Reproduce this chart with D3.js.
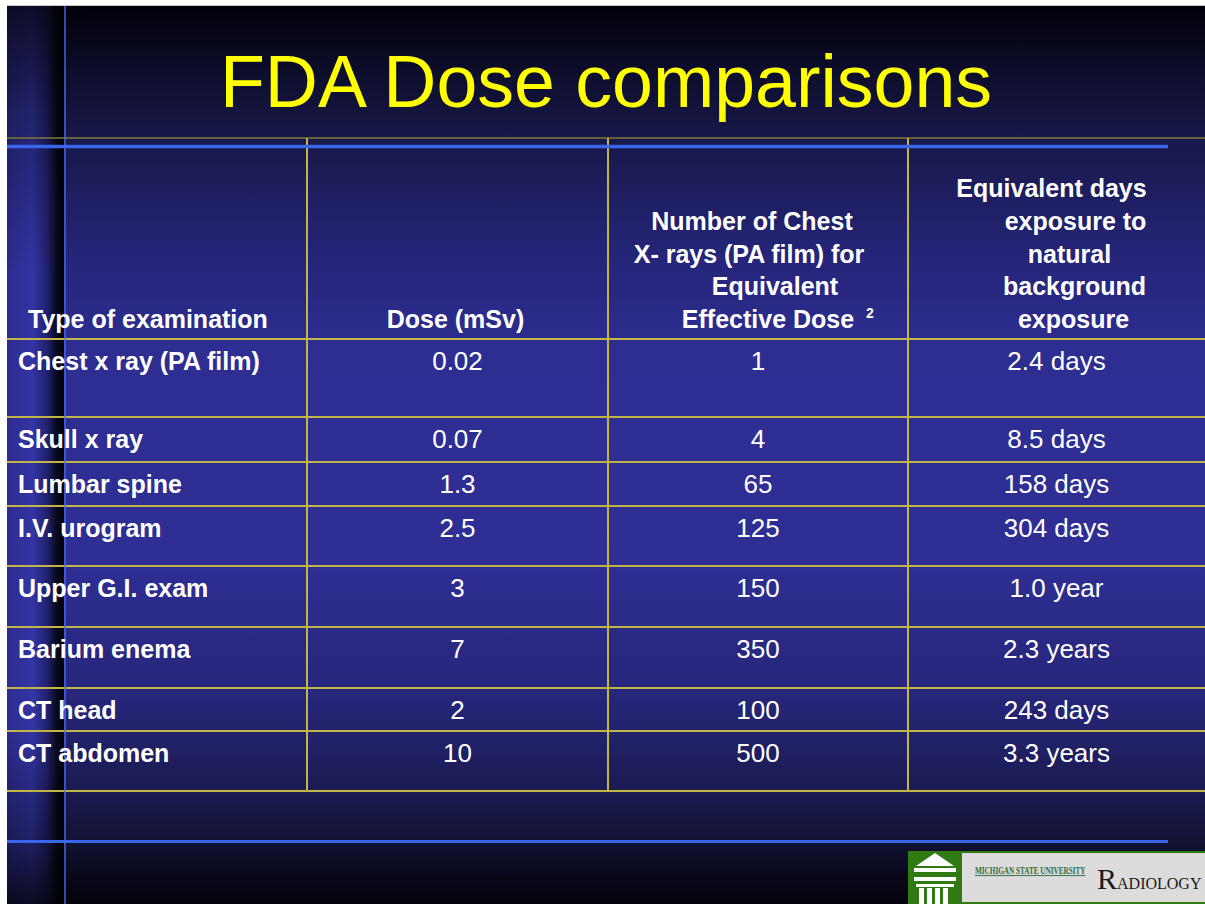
<!DOCTYPE html>
<html>
<head>
<meta charset="utf-8">
<script src="https://cdn.jsdelivr.net/npm/d3@7"></script>
<style>
  body { margin: 0; background: #fff; }
  svg { display: block; }
</style>
</head>
<body>
<svg id="chart" width="1205" height="904"></svg>
<script>
// table data
var title = "FDA Dose comparisons";
var headers = [
  ["Type of examination"],
  ["Dose (mSv)"],
  ["Number of Chest", "X- rays (PA film) for", "Equivalent", "Effective Dose"],
  ["Equivalent days", "exposure to", "natural", "background", "exposure"]
];
var footnote = "2";
var exams = ["Chest x ray (PA film)", "Skull x ray", "Lumbar spine", "I.V. urogram",
             "Upper G.I. exam", "Barium enema", "CT head", "CT abdomen"];
var doses = [0.02, 0.07, 1.3, 2.5, 3, 7, 2, 10];
var chestXrays = [1, 4, 65, 125, 150, 350, 100, 500];
var backgroundDays = ["2.4 days", "8.5 days", "158 days", "304 days",
                      "1.0 year", "2.3 years", "243 days", "3.3 years"];

// layout
var W = 1205, H = 904;
var left = 7, top0 = 5;
var colEdges = [7, 307, 608, 908, 1205];
var headTop = 138, headBottom = 339;
var rowHeights = [78, 45, 44, 60, 61, 61, 43, 60];
var headerDx = [[0], [-2], [-6, -9, 17, 10], [-5, 19, 13, 18, 17]];
var lineGap = 32.7;

var svg = d3.select("#chart");
var defs = svg.append("defs");

var bg = defs.append("linearGradient").attr("id", "bg")
    .attr("x1", 0).attr("y1", 0).attr("x2", 0).attr("y2", 1);
[[0, "#000008"], [0.06, "#0b0b26"], [0.14, "#171746"], [0.27, "#242476"],
 [0.38, "#2d2d92"], [0.62, "#2e2e94"], [0.77, "#26267a"], [0.87, "#1b1b54"],
 [0.93, "#121234"], [0.97, "#08081a"], [1, "#03030c"]].forEach(function(s) {
  bg.append("stop").attr("offset", s[0]).attr("stop-color", s[1]);
});

var bar = defs.append("linearGradient").attr("id", "bar")
    .attr("x1", 0).attr("y1", 0).attr("x2", 1).attr("y2", 0);
[[0, "#2c2c90"], [0.45, "#3434a4"], [0.7, "#222270"], [0.88, "#08081c"], [1, "#000008"]]
  .forEach(function(s) {
    bar.append("stop").attr("offset", s[0]).attr("stop-color", s[1]);
  });

var barShade = defs.append("linearGradient").attr("id", "barShade")
    .attr("x1", 0).attr("y1", 0).attr("x2", 0).attr("y2", 1);
[[0, 0.75], [0.12, 0.35], [0.3, 0], [0.8, 0], [0.93, 0.4], [1, 0.8]].forEach(function(s) {
  barShade.append("stop").attr("offset", s[0]).attr("stop-color", "#000")
    .attr("stop-opacity", s[1]);
});

// slide background
svg.append("rect").attr("x", left).attr("y", top0)
  .attr("width", W - left).attr("height", H - top0).attr("fill", "url(#bg)");
svg.append("line").attr("x1", left).attr("x2", W).attr("y1", top0 + 0.5).attr("y2", top0 + 0.5)
  .attr("stroke", "#c8c8c8").attr("stroke-width", 1);

// left bar
svg.append("rect").attr("x", left).attr("y", top0 + 1)
  .attr("width", 57).attr("height", H - top0).attr("fill", "url(#bar)");
svg.append("rect").attr("x", left).attr("y", top0 + 1)
  .attr("width", 57).attr("height", H - top0).attr("fill", "url(#barShade)");

// title
svg.append("text")
  .attr("x", 606).attr("y", 107)
  .attr("text-anchor", "middle")
  .attr("font-family", "'Liberation Sans', Arial, sans-serif")
  .attr("font-size", 73.5)
  .attr("fill", "#ffff00")
  .text(title);

// row positions
var rowTops = [headBottom];
rowHeights.forEach(function(h, i) { rowTops.push(rowTops[i] + h); });
var y = d3.scaleOrdinal().domain(exams).range(rowTops.slice(0, exams.length));
var tableBottom = rowTops[rowTops.length - 1];

var colCenter = d3.scaleOrdinal().domain([0, 1, 2, 3])
  .range([0, 1, 2, 3].map(function(i) { return (colEdges[i] + colEdges[i + 1]) / 2; }));

// grid lines
var grid = svg.append("g");
grid.append("line").attr("x1", left).attr("x2", W)
  .attr("y1", headTop).attr("y2", headTop)
  .attr("stroke", "#7d7a3a").attr("stroke-width", 1.5);
grid.selectAll("line.h").data(rowTops).enter().append("line").attr("class", "h")
  .attr("x1", left).attr("x2", W)
  .attr("y1", function(d) { return d; }).attr("y2", function(d) { return d; })
  .attr("stroke", "#c2b545").attr("stroke-width", 2);
grid.selectAll("line.v").data(colEdges.slice(1, 4)).enter().append("line").attr("class", "v")
  .attr("x1", function(d) { return d; }).attr("x2", function(d) { return d; })
  .attr("y1", headTop).attr("y2", tableBottom)
  .attr("stroke", "#c2b545").attr("stroke-width", 2);

// blue rules
svg.append("line").attr("x1", left).attr("x2", 1168).attr("y1", 146.5).attr("y2", 146.5)
  .attr("stroke", "#3a66ee").attr("stroke-width", 3.5);
svg.append("line").attr("x1", left).attr("x2", 1168).attr("y1", 841.5).attr("y2", 841.5)
  .attr("stroke", "#3a66ee").attr("stroke-width", 3);
svg.append("line").attr("x1", 65).attr("x2", 65).attr("y1", top0 + 1).attr("y2", H)
  .attr("stroke", "#4a6cf5").attr("stroke-width", 1.5).attr("opacity", 0.9);

// header text
var font = "'Liberation Sans', Arial, Helvetica, sans-serif";
headers.forEach(function(lines, c) {
  var n = lines.length;
  lines.forEach(function(line, k) {
    var baseY = 328 - (n - 1 - k) * lineGap;
    svg.append("text")
      .attr("x", c === 0 ? 28 : colCenter(c) + headerDx[c][k])
      .attr("y", baseY)
      .attr("text-anchor", c === 0 ? "start" : "middle")
      .attr("font-family", font).attr("font-weight", "bold")
      .attr("font-size", 25)
      .attr("fill", "#fff")
      .text(line);
  });
});
svg.append("text").attr("x", 866).attr("y", 318)
  .attr("font-family", font).attr("font-weight", "bold").attr("font-size", 14)
  .attr("fill", "#fff").text(footnote);

// body rows
var rows = svg.append("g").selectAll("g").data(exams).enter().append("g")
  .attr("transform", function(d) { return "translate(0," + (y(d) + 31) + ")"; });

rows.append("text").attr("x", 18)
  .attr("font-family", font).attr("font-weight", "bold")
  .attr("font-size", 25)
  .attr("fill", "#fff")
  .text(function(d) { return d; });

var valueCols = [doses.map(String), chestXrays.map(String), backgroundDays];
valueCols.forEach(function(vals, j) {
  rows.append("text")
    .attr("x", colCenter(j + 1))
    .attr("text-anchor", "middle")
    .attr("font-family", font).attr("font-size", 26)
    .attr("fill", "#fff")
    .text(function(d, i) { return vals[i]; });
});

// logo, bottom right
var serif = "'Liberation Serif', 'DejaVu Serif', serif";
var logo = svg.append("g");
logo.append("rect").attr("x", 908).attr("y", 851).attr("width", 297).attr("height", 53)
  .attr("fill", "#2f7a12");
logo.append("rect").attr("x", 962).attr("y", 853).attr("width", 243).attr("height", 49)
  .attr("fill", "#dcdcdc");
// building icon
logo.append("path").attr("d", "M916,866 L935,853 L954,866 Z").attr("fill", "#fff");
logo.append("rect").attr("x", 914).attr("y", 868).attr("width", 42).attr("height", 4).attr("fill", "#fff");
logo.append("rect").attr("x", 914).attr("y", 877).attr("width", 42).attr("height", 4).attr("fill", "#fff");
logo.append("rect").attr("x", 916).attr("y", 884).attr("width", 38).attr("height", 3).attr("fill", "#fff");
[919, 927, 935, 943].forEach(function(cx) {
  logo.append("rect").attr("x", cx).attr("y", 888).attr("width", 5).attr("height", 16).attr("fill", "#fff");
});
logo.append("text").attr("transform", "translate(975,874) scale(1,1.3)")
  .attr("font-family", serif).attr("font-weight", "bold")
  .attr("font-size", 7.2).attr("fill", "#2c6b40").attr("text-decoration", "underline")
  .text("MICHIGAN STATE UNIVERSITY");
var rad = logo.append("text").attr("x", 1097).attr("y", 889)
  .attr("font-family", serif)
  .attr("fill", "#1a1a1a");
rad.append("tspan").attr("font-size", 30).text("R");
rad.append("tspan").attr("font-size", 16).text("ADIOLOGY");
</script>
</body>
</html>
